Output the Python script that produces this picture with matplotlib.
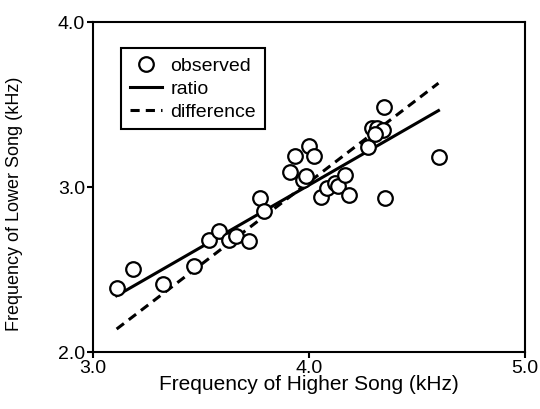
import numpy as np
import matplotlib
matplotlib.use("Agg")
import matplotlib.pyplot as plt

plt.rcParams['font.family'] = ['Liberation Sans', 'DejaVu Sans']

# observed song pairs (kHz)
higher = [3.111, 3.185, 3.324, 3.468, 3.537, 3.583, 3.630, 3.662, 3.722, 3.773,
          3.792, 3.912, 3.935, 3.972, 3.986, 4.000, 4.023, 4.056, 4.083, 4.120,
          4.134, 4.167, 4.185, 4.273, 4.292, 4.315, 4.343, 4.306, 4.347, 4.352,
          4.602]
lower = [2.388, 2.503, 2.412, 2.521, 2.679, 2.733, 2.679, 2.703, 2.673, 2.933,
         2.855, 3.091, 3.188, 3.042, 3.067, 3.248, 3.188, 2.939, 2.994, 3.024,
         3.006, 3.073, 2.952, 3.242, 3.358, 3.358, 3.345, 3.321, 3.485, 2.933,
         3.182]

# model lines
line_x = [3.11, 4.60]
ratio = 0.753
difference = 0.97

fig = plt.figure(figsize=(5.4, 4.09), dpi=100)
ax = fig.add_axes([0.172, 0.139, 0.8, 0.807])

xs = np.array(line_x)
ax.plot(higher, lower, 'o', mfc='white', mec='black', ms=10.5, mew=1.6,
        linestyle='none', label='observed', zorder=3)
ax.plot(xs, ratio * xs, '-', color='black', lw=2.2, label='ratio', zorder=2)
ax.plot(xs, xs - difference, '--', color='black', lw=2.2, dashes=(3, 2),
        label='difference', zorder=2)

ax.set_xlim(3.0, 5.0)
ax.set_ylim(2.0, 4.0)
ax.set_xticks([3.0, 4.0, 5.0])
ax.set_yticks([2.0, 3.0, 4.0])
ax.set_xticklabels(['3.0', '4.0', '5.0'])
ax.set_yticklabels(['2.0', '3.0', '4.0'])
ax.tick_params(direction='out', length=4, width=1.5, labelsize=14, pad=1.5)
for s in ax.spines.values():
    s.set_linewidth(1.5)

ax.set_xlabel('Frequency of Higher Song (kHz)', fontsize=15, labelpad=-1)
ax.set_ylabel('Frequency of Lower Song (kHz)', fontsize=13)
ax.yaxis.set_label_coords(-0.162, 0.45)

leg = ax.legend(loc='upper left', bbox_to_anchor=(0.065, 0.921), borderaxespad=0,
                fontsize=14, frameon=True, fancybox=False, edgecolor='black',
                framealpha=1, handlelength=1.65, handletextpad=0.45,
                borderpad=0.45, labelspacing=0.28)
leg.get_frame().set_linewidth(1.5)

fig.savefig('out.png', dpi=100)
